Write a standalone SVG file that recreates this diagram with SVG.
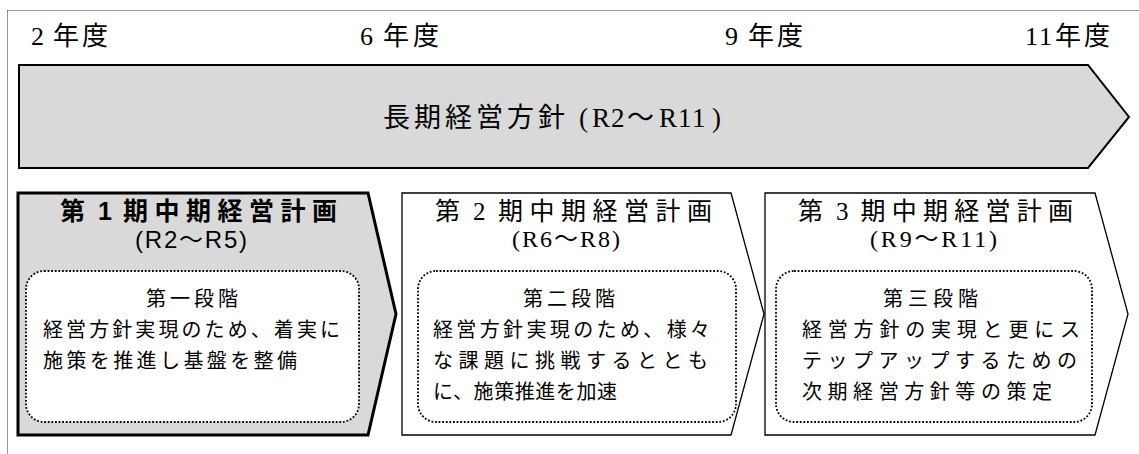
<svg xmlns="http://www.w3.org/2000/svg" width="1139" height="454" viewBox="0 0 1139 454">
<style>
.serif{font-family:"Liberation Serif","Noto Sans CJK JP",serif;fill:#000}
.sans{font-family:"Liberation Sans","Noto Sans CJK JP",sans-serif;fill:#000}
.year{font-size:26px}
.title{font-size:25px}
.range{font-size:24px}
.body{font-size:20px}
.frame{fill:none;stroke:#333;stroke-width:1;stroke-dasharray:1 1}
.inner{fill:#fff;stroke:#000;stroke-width:1.8;stroke-dasharray:1.8 1.8}
.plan{fill:#fff;stroke:#000;stroke-width:1.3;stroke-linejoin:miter}
.plan1{fill:#d9d9d9;stroke:#000;stroke-width:3;stroke-linejoin:miter}
</style>
<rect width="1139" height="454" fill="#fff"/>
<g id="frame">
<path class="frame" d="M7.5,10.5 H1139 M7.5,10.5 V454"/>
</g>
<g id="years">
<text class="serif year" x="31 53 82" y="45">2年度</text>
<text class="serif year" x="360 383 413" y="45">6年度</text>
<text class="serif year" x="725 748 777" y="45">9年度</text>
<text class="serif year" x="1025 1039 1055 1084" y="45">11年度</text>
</g>
<g id="long-term-policy">
<polygon points="19,65 1088,65 1129,117 1088,168 19,168" fill="#d9d9d9" stroke="#000" stroke-width="2"/>
<text class="serif" font-size="27" x="383 414 445 476 507 538 579 592 611 627 659 678 692 712" y="127">長期経営方針(R2～R11)</text>
</g>
<g id="plan1">
<polygon class="plan1" points="18,193 368,193 396,314 368,435 18,435"/>
<rect class="inner" x="26" y="271" width="333" height="151" rx="18" ry="18"/>
<text class="sans title" font-weight="bold" x="60 98 123 154.5 186 217.5 249 280.5 312" y="220">第1期中期経営計画</text>
<text class="sans range" x="135" y="248" textLength="112" lengthAdjust="spacing">(R2～R5)</text>
<text class="serif body" x="146" y="306" textLength="92" lengthAdjust="spacing">第一段階</text>
<text class="serif body" x="43" y="337" textLength="297" lengthAdjust="spacing">経営方針実現のため、着実に</text>
<text class="serif body" x="43" y="368" textLength="254" lengthAdjust="spacing">施策を推進し基盤を整備</text>
</g>
<g id="plan2">
<polygon class="plan" points="402,193 731,193 764,314 731,435 402,435"/>
<rect class="inner" x="418" y="271" width="318" height="151" rx="18" ry="18"/>
<text class="serif title" x="435 473 498 529.5 561 592.5 624 655.5 687" y="220">第2期中期経営計画</text>
<text class="serif range" x="512" y="247" textLength="108" lengthAdjust="spacing">(R6～R8)</text>
<text class="serif body" x="523" y="306" textLength="92" lengthAdjust="spacing">第二段階</text>
<text class="serif body" x="433" y="337" textLength="277" lengthAdjust="spacing">経営方針実現のため、様々</text>
<text class="serif body" x="433" y="368" textLength="275" lengthAdjust="spacing">な課題に挑戦するととも</text>
<text class="serif body" x="433" y="399" textLength="184" lengthAdjust="spacing">に、施策推進を加速</text>
</g>
<g id="plan3">
<polygon class="plan" points="765,193 1095,193 1128,314 1095,435 765,435"/>
<rect class="inner" x="776" y="271" width="316" height="151" rx="18" ry="18"/>
<text class="serif title" x="798 836 860.5 891.75 923 954.25 985.5 1016.75 1048" y="220">第3期中期経営計画</text>
<text class="serif range" x="870" y="247" textLength="127" lengthAdjust="spacing">(R9～R11)</text>
<text class="serif body" x="883" y="306" textLength="95" lengthAdjust="spacing">第三段階</text>
<text class="serif body" x="802" y="337" textLength="278" lengthAdjust="spacing">経営方針の実現と更にス</text>
<text class="serif body" x="802" y="368" textLength="275" lengthAdjust="spacing">テップアップするための</text>
<text class="serif body" x="802" y="399" textLength="250" lengthAdjust="spacing">次期経営方針等の策定</text>
</g>
<g id="connectors"/>
</svg>
